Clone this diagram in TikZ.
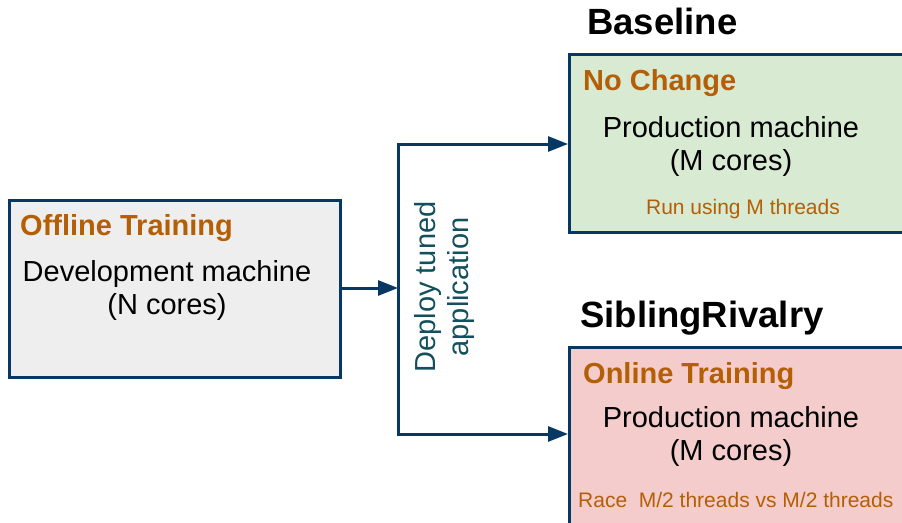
\documentclass[tikz,border=0pt]{standalone}
\usepackage{fontspec}
\setmainfont{Liberation Sans}
\usetikzlibrary{arrows.meta, positioning}
\definecolor{navy}{HTML}{073763}
\definecolor{rust}{HTML}{B45F06}
\definecolor{tealtxt}{HTML}{134F5C}
\definecolor{greyfill}{HTML}{EEEEEE}
\definecolor{greenfill}{HTML}{D9EAD3}
\definecolor{pinkfill}{HTML}{F4CCCC}
\tikzset{
  box/.style   = {draw=navy, line width=2.8pt, anchor=north west, inner sep=0pt},
  head/.style  = {font=\fontsize{29}{34}\selectfont\bfseries, text=rust,
                  anchor=base west, inner sep=0pt},
  main/.style  = {font=\fontsize{29}{33}\selectfont, align=center,
                  anchor=base, inner sep=0pt},
  note/.style  = {font=\fontsize{21}{25}\selectfont, text=rust,
                  anchor=base, inner sep=0pt},
  ttl/.style   = {font=\fontsize{36.5}{42}\selectfont\bfseries,
                  anchor=base west, inner sep=0pt},
  flow/.style  = {-{Triangle[length=20pt, width=15pt]}, line width=3pt, draw=navy},
}

\begin{document}
\begin{tikzpicture}[x=1pt, y=-1pt]
    \clip (0,0) rectangle (902,522);

    % machines
    \node[box, fill=greyfill, minimum width=331pt, minimum height=177pt] (dev) at (8,199) {};
    \node[box, fill=greenfill, minimum width=345pt, minimum height=178pt] (base) at (568,53) {};
    \node[box, fill=pinkfill, minimum width=345pt, minimum height=178pt] (rival) at (568,346) {};

    \node[head] (devhead) at (20,235) {Offline Training};
    \node[main] (devtxt) at (167,314) {Development machine\\(N cores)};

    \node[ttl] (basettl) at (587,34) {Baseline};
    \node[head] (basehead) at (583,90) {No Change};
    \node[main] (basetxt) at (731,170) {Production machine\\(M cores)};
    \node[note] (basenote) at (743,214) {Run using M threads};

    \node[ttl] (rivalttl) at (580,327) {SiblingRivalry};
    \node[head] (rivalhead) at (583,383) {Online Training};
    \node[main] (rivaltxt) at (731,460) {Production machine\\(M cores)};
    \node[note, anchor=base west] (rivalnote) at (578,507) {Race~~M/2 threads vs M/2 threads};

    % deployment
    \coordinate (split) at (398,288);
    \coordinate (uptee) at (398,144);
    \coordinate (dntee) at (398,434);
    \draw[flow] (dev.east |- split) -- (split);
    \draw[flow, line cap=rect] (split) -- (uptee) -- (uptee -| base.west);
    \draw[flow, line cap=rect] (split) -- (dntee) -- (dntee -| rival.west);
    \node[font=\fontsize{29}{33}\selectfont, text=tealtxt, align=center, rotate=90,
          inner sep=0pt] (deploy) at (444,287) {Deploy tuned\\application};
  \end{tikzpicture}
\end{document}
